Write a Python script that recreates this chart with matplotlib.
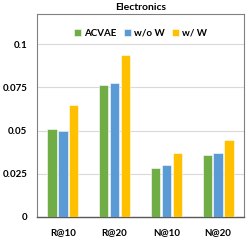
import matplotlib.pyplot as plt
import numpy as np

plt.rcParams['font.family'] = ['Lato', 'DejaVu Sans']
plt.rcParams['font.weight'] = 'bold'

categories = ['R@10', 'R@20', 'N@10', 'N@20']
series = ['ACVAE', 'w/o W', 'w/ W']
acvae = [0.0509, 0.0766, 0.0286, 0.0358]
wo_w = [0.0497, 0.0777, 0.0299, 0.0373]
w_w = [0.0646, 0.0935, 0.0371, 0.0447]
colors = ['#70AD47', '#5B9BD5', '#FFC000']
yticks = [0, 0.025, 0.05, 0.075, 0.1]
ytick_labels = ['0', '0.025', '0.05', '0.075', '0.1']

fig = plt.figure(figsize=(2.49, 2.40), dpi=100)
ax = fig.add_axes([37 / 249, 1 - 217 / 240, 207 / 249, 203 / 240])

x = np.arange(len(categories))
width = 0.18
for i, (vals, name) in enumerate(zip([acvae, wo_w, w_w], series)):
    ax.bar(x + (i - 1) * 0.21, vals, width, color=colors[i], label=name,
           edgecolor='white', linewidth=0.4, zorder=3)

ax.set_xlim(-0.5, len(categories) - 0.5)
ax.set_ylim(0, 0.1175)
ax.set_yticks(yticks)
ax.set_yticklabels(ytick_labels)
ax.set_xticks(x)
ax.set_xticklabels(categories)
ax.tick_params(axis='both', length=0, labelsize=7, colors='black')
ax.tick_params(axis='x', pad=8)
ax.tick_params(axis='y', pad=7)
ax.grid(axis='y', color='#d9d9d9', linewidth=0.8, zorder=0)
for side in ['left', 'top', 'right']:
    ax.spines[side].set_color('#808080')
    ax.spines[side].set_linewidth(0.8)
ax.spines['bottom'].set_color('#595959')
ax.spines['bottom'].set_linewidth(1.0)

ax.set_title('Electronics', fontsize=7.5, fontweight='bold', pad=3)
ax.legend(loc='upper center', bbox_to_anchor=(0.5, 0.97), ncol=3, frameon=False,
          fontsize=7, handlelength=0.7, handleheight=0.7, handletextpad=0.3,
          columnspacing=0.8)

fig.savefig('out.png', dpi=100)
